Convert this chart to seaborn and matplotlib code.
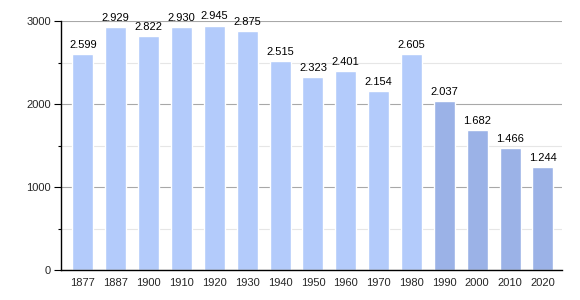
import matplotlib
matplotlib.use("Agg")
import matplotlib.pyplot as plt
import seaborn as sns
import pandas as pd
from matplotlib.ticker import MultipleLocator

years = ["1877", "1887", "1900", "1910", "1920", "1930", "1940", "1950",
         "1960", "1970", "1980", "1990", "2000", "2010", "2020"]
population = [2599, 2929, 2822, 2930, 2945, 2875, 2515, 2323,
              2401, 2154, 2605, 2037, 1682, 1466, 1244]
labels = ["2.599", "2.929", "2.822", "2.930", "2.945", "2.875", "2.515", "2.323",
          "2.401", "2.154", "2.605", "2.037", "1.682", "1.466", "1.244"]

light = "#b3cbfb"
dark = "#9bb2e7"
palette = [light] * 11 + [dark] * 4

sns.set_style("white")
plt.rcParams['font.family'] = ['Liberation Sans', 'DejaVu Sans']

df = pd.DataFrame({"year": years, "pop": population})

fig = plt.figure(figsize=(5.8, 3.0), dpi=100)
ax = fig.add_axes([0.105, 0.1, 0.864, 0.83])

sns.barplot(data=df, x="year", y="pop", hue="year", palette=palette,
            legend=False, width=0.64, saturation=1, ax=ax)

ax.set_ylim(0, 3000)
ax.set_xlim(-0.67, 14.58)
ax.yaxis.set_major_locator(MultipleLocator(1000))
ax.yaxis.set_minor_locator(MultipleLocator(500))
ax.grid(axis="y", which="major", color="#a8a8a8", linewidth=0.8)
ax.grid(axis="y", which="minor", color="#e6e6e6", linewidth=0.8)
ax.set_axisbelow(True)

for s in ["top", "right"]:
    ax.spines[s].set_visible(False)
for s in ["left", "bottom"]:
    ax.spines[s].set_color("black")
    ax.spines[s].set_linewidth(1.0)

ax.tick_params(axis="y", which="major", direction="out", left=True, length=5,
               width=0.8, color="black", labelsize=8, pad=2)
ax.tick_params(axis="y", which="minor", direction="out", left=True, length=2.5,
               width=0.8, color="black")
ax.tick_params(axis="x", bottom=False, labelsize=8, pad=2)
ax.set_xlabel("")
ax.set_ylabel("")

for i, (v, t) in enumerate(zip(population, labels)):
    ax.annotate(t, (i, v), xytext=(0, 3), textcoords="offset points",
                ha="center", va="bottom", fontsize=8, color="black")

fig.savefig("out.png", dpi=100)
